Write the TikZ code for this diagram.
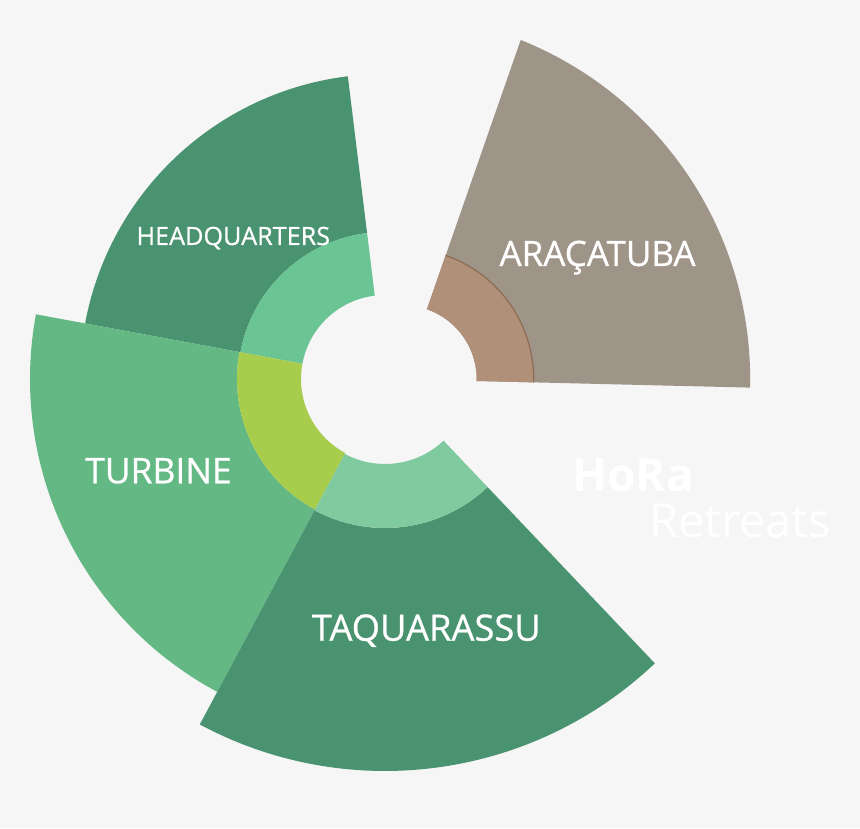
\documentclass[tikz,border=0pt]{standalone}
\usepackage{fontspec}
\setmainfont{Open Sans}
\newfontface\lblfont{Open Sans}[FakeBold=0.7]
\usetikzlibrary{calc}
\definecolor{bg}{HTML}{F6F6F6}
\definecolor{darkgreen}{HTML}{4A9370}
\definecolor{hqring}{HTML}{6AC493}
\definecolor{turbgreen}{HTML}{63B884}
\definecolor{limegreen}{HTML}{A8CC4C}
\definecolor{taqring}{HTML}{7FCA9F}
\definecolor{aragray}{HTML}{9F9488}
\definecolor{arabrown}{HTML}{B09078}
\definecolor{brownedge}{HTML}{8C6C52}
% center, start angle, end angle, inner radius, outer radius, colour
\newcommand{\ringsector}[6]{%
  \fill[#6] ($(#1)+(#2:#5)$) arc[start angle=#2,end angle=#3,radius=#5]
    -- ($(#1)+(#3:#4)$) arc[start angle=#3,end angle=#2,radius=#4] -- cycle;}
\tikzset{
  lbl/.style={text=white, inner sep=0pt, anchor=base},
}
\begin{document}
\begin{tikzpicture}[x=1pt,y=1pt]
\useasboundingbox (0,0) rectangle (860,828);
\fill[bg] (0,0) rectangle (860,828);
\coordinate (C) at (385,449);
\coordinate (A) at (402.7,448.8);
% Headquarters
\ringsector{C}{97}{169.5}{147}{305}{darkgreen}
\ringsector{C}{97}{169.5}{84}{147}{hqring}
% Turbine
\ringsector{C}{169.5}{241.8}{148}{355}{turbgreen}
\ringsector{C}{169.5}{241.8}{84}{148}{limegreen}
% Taquarassu
\ringsector{C}{241.8}{313.5}{149}{392}{darkgreen}
\ringsector{C}{241.8}{313.5}{85}{149}{taqring}
% Aracatuba
\fill[aragray] (520.7,788) arc[start angle=68.2,end angle=-1.37,radius=365]
  -- (476.7,447) arc[start angle=-1.4,end angle=70.9,radius=74] -- cycle;
\ringsector{A}{-1.4}{70.9}{74}{131}{arabrown}
\draw[brownedge, line width=1.2pt] ($(A)+(-1.4:131)$) arc[start angle=-1.4,end angle=70.9,radius=131];
% labels
\node[lbl, font=\lblfont\fontsize{25.2}{30}\selectfont] (hq) at (233.3,583) {HEADQUARTERS};
\node[lbl, font=\lblfont\fontsize{35}{40}\selectfont] (ara) at (597.5,562) {ARAÇATUBA};
\node[lbl, font=\lblfont\fontsize{35.4}{42}\selectfont] (tur) at (158.5,344.7) {TURBINE};
\node[lbl, font=\lblfont\fontsize{36.3}{42}\selectfont] (taq) at (426.3,187.3) {TAQUARASSU};
\node[lbl, font=\fontsize{46}{54}\selectfont\bfseries] (hora) at (633,336.3) {HoRa};
\node[lbl, font=\fontsize{47}{54}\selectfont] (ret) at (740,290.7) {Retreats};
\end{tikzpicture}
\end{document}
